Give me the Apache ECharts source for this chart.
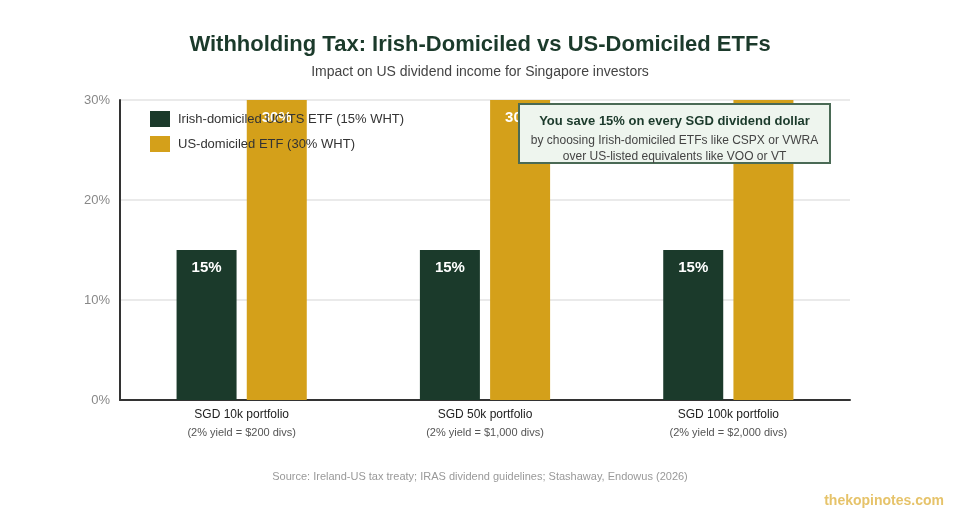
<!DOCTYPE html>
<html>
<head>
<meta charset="utf-8">
<script src="https://cdn.jsdelivr.net/npm/echarts@6/dist/echarts.min.js"></script>
<style>
  html, body { margin: 0; padding: 0; background: #fff; }
  #chart { width: 960px; height: 520px; }
</style>
</head>
<body>
<div id="chart"></div>
<script>
// categories and sub labels
const portfolios = ['SGD 10k portfolio', 'SGD 50k portfolio', 'SGD 100k portfolio'];
const yieldNotes = ['(2% yield = $200 divs)', '(2% yield = $1,000 divs)', '(2% yield = $2,000 divs)'];
// withholding tax rates (%)
const irishWht = [15, 15, 15];
const usWht = [30, 30, 30];
const seriesNames = ['Irish-domiciled UCITS ETF (15% WHT)', 'US-domiciled ETF (30% WHT)'];
const yTicks = [0, 10, 20, 30];

const FONT = '"Liberation Sans", Arial, Helvetica, sans-serif';
const DARK = '#1b3a2b';
const GOLD = '#d4a01a';

var chart = echarts.init(document.getElementById('chart'));

var option = {
  animation: false,
  textStyle: { fontFamily: FONT },
  title: [
    {
      text: 'Withholding Tax: Irish-Domiciled vs US-Domiciled ETFs',
      left: 'center', top: 29,
      textStyle: { fontFamily: FONT, fontSize: 22, fontWeight: 'bold', color: DARK }
    },
    {
      text: 'Impact on US dividend income for Singapore investors',
      left: 'center', top: 60,
      textStyle: { fontFamily: FONT, fontSize: 14, fontWeight: 'normal', color: '#444' }
    },
    {
      text: 'Source: Ireland-US tax treaty; IRAS dividend guidelines; Stashaway, Endowus (2026)',
      left: 'center', top: 466,
      textStyle: { fontFamily: FONT, fontSize: 11, fontWeight: 'normal', color: '#999' }
    },
    {
      text: 'thekopinotes.com',
      right: 11, top: 489,
      textStyle: { fontFamily: FONT, fontSize: 14, fontWeight: 'bold', color: '#e6c36a' }
    }
  ],
  legend: {
    orient: 'vertical',
    left: 145, top: 106,
    itemWidth: 20, itemHeight: 16, itemGap: 9,
    icon: 'rect',
    textStyle: { fontFamily: FONT, fontSize: 13, color: '#333', padding: [0, 0, 0, 3] },
    data: seriesNames
  },
  grid: { left: 120, right: 110, top: 100, bottom: 120, containLabel: false },
  xAxis: {
    type: 'category',
    data: portfolios,
    axisLine: { lineStyle: { color: '#333', width: 2 } },
    axisTick: { show: false },
    axisLabel: {
      margin: 6,
      formatter: function (v, i) { return '{a|' + v + '}\n{b|' + yieldNotes[i] + '}'; },
      rich: {
        a: { fontFamily: FONT, fontSize: 12, color: '#222', lineHeight: 18 },
        b: { fontFamily: FONT, fontSize: 11, color: '#555', lineHeight: 18 }
      }
    }
  },
  yAxis: {
    type: 'value',
    min: yTicks[0], max: yTicks[yTicks.length - 1], interval: 10,
    axisLine: { show: true, lineStyle: { color: '#333', width: 2 } },
    axisTick: { show: false },
    splitLine: { lineStyle: { color: '#eaeaea', width: 2 } },
    axisLabel: { formatter: '{value}%', fontFamily: FONT, fontSize: 13, color: '#888', margin: 10 }
  },
  series: [
    {
      name: seriesNames[0], type: 'bar', data: irishWht,
      barWidth: 60, barGap: '17%',
      itemStyle: { color: DARK },
      label: { show: true, position: 'insideTop', distance: 10, formatter: '{c}%',
        fontFamily: FONT, fontSize: 15, fontWeight: 'bold', color: '#fff' }
    },
    {
      name: seriesNames[1], type: 'bar', data: usWht,
      barWidth: 60,
      itemStyle: { color: GOLD },
      label: { show: true, position: 'insideTop', distance: 10, formatter: '{c}%',
        fontFamily: FONT, fontSize: 15, fontWeight: 'bold', color: '#fff' }
    }
  ],
  graphic: [
    { type: 'rect', z: 100, zlevel: 1, shape: { x: 519, y: 104, width: 311, height: 59 },
      style: { fill: '#eef5ee', stroke: '#4a6a55', lineWidth: 2 } },
    { type: 'text', z: 101, zlevel: 1, x: 674.5, y: 115,
      style: { text: 'You save 15% on every SGD dividend dollar', align: 'center',
        font: 'bold 13px ' + FONT, fill: DARK } },
    { type: 'text', z: 101, zlevel: 1, x: 674.5, y: 135,
      style: { text: 'by choosing Irish-domiciled ETFs like CSPX or VWRA', align: 'center',
        font: '12px ' + FONT, fill: '#444' } },
    { type: 'text', z: 101, zlevel: 1, x: 674.5, y: 151,
      style: { text: 'over US-listed equivalents like VOO or VT', align: 'center',
        font: '12px ' + FONT, fill: '#444' } }
  ]
};

chart.setOption(option);
</script>
</body>
</html>
